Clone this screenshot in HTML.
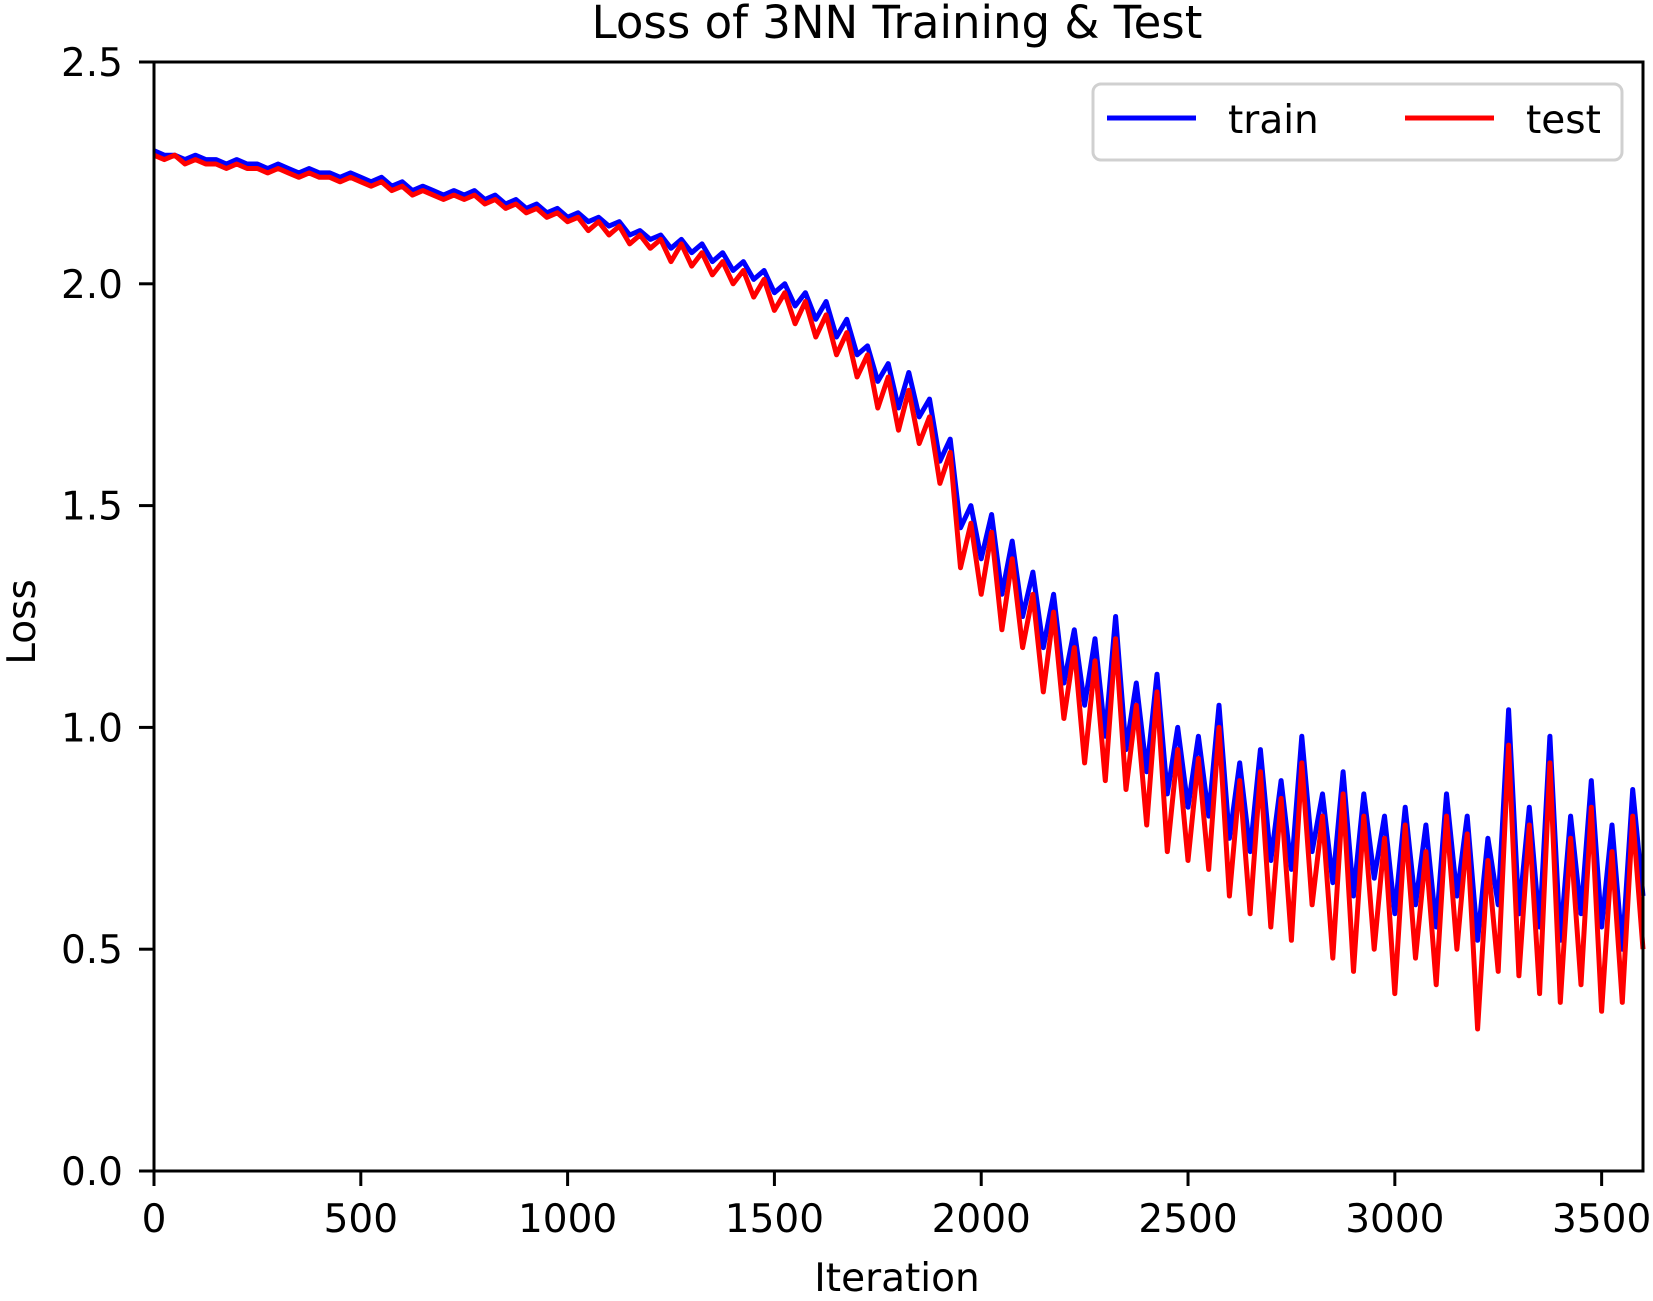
<!DOCTYPE html>
<html><head><meta charset="utf-8"><style>
html,body{margin:0;padding:0;background:#fff}
svg{display:block;font-family:"DejaVu Sans","Liberation Sans",sans-serif}
</style></head><body>
<svg id="chart" width="1653" height="1301" viewBox="0 0 1653 1301">
<text x="897" y="38" font-size="45" text-anchor="middle">Loss of 3NN Training &amp; Test</text>
<g id="series"></g>
<rect x="154" y="62" width="1489" height="1109" fill="none" stroke="#000" stroke-width="3"/>
<g id="ticks"></g>
<text x="897" y="1291" font-size="39" text-anchor="middle">Iteration</text>
<text x="0" y="0" font-size="39" text-anchor="middle" transform="translate(35,622) rotate(-90)">Loss</text>
<g>
<rect x="1093" y="84" width="529" height="76" rx="8" fill="#fff" fill-opacity="0.8" stroke="#d0d0d0" stroke-width="3"/>
<line x1="1107" y1="118" x2="1196" y2="118" stroke="#0000ff" stroke-width="5"/>
<text x="1228" y="133" font-size="39">train</text>
<line x1="1405" y1="118" x2="1494" y2="118" stroke="#ff0000" stroke-width="5"/>
<text x="1526" y="133" font-size="39">test</text>
</g>
</svg>
<script>
const step = 25;
const xTicks = [0,500,1000,1500,2000,2500,3000,3500];
const yTicks = [0,0.5,1.0,1.5,2.0,2.5];
const trainLoss = [2.30,2.29,2.29,2.28,2.29,2.28,2.28,2.27,2.28,2.27,2.27,2.26,2.27,2.26,2.25,2.26,2.25,2.25,2.24,2.25,2.24,
2.23,2.24,2.22,2.23,2.21,2.22,2.21,2.20,2.21,2.20,2.21,2.19,2.20,2.18,2.19,2.17,2.18,2.16,2.17,2.15,
2.16,2.14,2.15,2.13,2.14,2.11,2.12,2.10,2.11,2.08,2.10,2.07,2.09,2.05,2.07,2.03,2.05,2.01,2.03,1.98,
2.00,1.95,1.98,1.92,1.96,1.88,1.92,1.84,1.86,1.78,1.82,1.72,1.80,1.70,1.74,1.60,1.65,1.45,1.50,1.38,
1.48,1.30,1.42,1.25,1.35,1.18,1.30,1.10,1.22,1.05,1.20,0.98,1.25,0.95,1.10,0.90,1.12,0.85,1.00,0.82,
0.98,0.80,1.05,0.75,0.92,0.72,0.95,0.70,0.88,0.68,0.98,0.72,0.85,0.65,0.90,0.62,0.85,0.66,0.80,0.58,
0.82,0.60,0.78,0.55,0.85,0.62,0.80,0.52,0.75,0.60,1.04,0.58,0.82,0.55,0.98,0.52,0.80,0.58,0.88,0.55,0.78,0.50,0.86,0.62];
const testLoss = [2.29,2.28,2.29,2.27,2.28,2.27,2.27,2.26,2.27,2.26,2.26,2.25,2.26,2.25,2.24,2.25,2.24,2.24,2.23,2.24,2.23,
2.22,2.23,2.21,2.22,2.20,2.21,2.20,2.19,2.20,2.19,2.20,2.18,2.19,2.17,2.18,2.16,2.17,2.15,2.16,2.14,
2.15,2.12,2.14,2.11,2.13,2.09,2.11,2.08,2.10,2.05,2.09,2.04,2.07,2.02,2.05,2.00,2.03,1.97,2.01,1.94,
1.98,1.91,1.96,1.88,1.93,1.84,1.89,1.79,1.84,1.72,1.79,1.67,1.76,1.64,1.70,1.55,1.62,1.36,1.46,1.30,
1.44,1.22,1.38,1.18,1.30,1.08,1.26,1.02,1.18,0.92,1.15,0.88,1.20,0.86,1.05,0.78,1.08,0.72,0.95,0.70,
0.93,0.68,1.00,0.62,0.88,0.58,0.90,0.55,0.84,0.52,0.92,0.60,0.80,0.48,0.85,0.45,0.80,0.50,0.75,0.40,
0.78,0.48,0.72,0.42,0.80,0.50,0.76,0.32,0.70,0.45,0.96,0.44,0.78,0.40,0.92,0.38,0.75,0.42,0.82,0.36,0.72,0.38,0.80,0.50];

const X0=154,X1=1643,Y0=1171,Y1=62,XMAX=3600,YMAX=2.5;
const xs = v => X0 + v/XMAX*(X1-X0);
const ys = v => Y0 - v/YMAX*(Y0-Y1);
const NS="http://www.w3.org/2000/svg";
const series=document.getElementById('series');
function drawLine(arr,color,name){
  const p=document.createElementNS(NS,'polyline');
  p.setAttribute('points',arr.map((v,i)=>xs(i*step).toFixed(1)+','+ys(v).toFixed(1)).join(' '));
  p.setAttribute('fill','none');p.setAttribute('stroke',color);
  p.setAttribute('stroke-width','5');p.setAttribute('stroke-linejoin','round');
  
  
  series.appendChild(p);
}
drawLine(trainLoss,'#0000ff','train-line');
drawLine(testLoss,'#ff0000','test-line');
const ticks=document.getElementById('ticks');
xTicks.forEach(t=>{
  const l=document.createElementNS(NS,'line');
  l.setAttribute('x1',xs(t));l.setAttribute('x2',xs(t));l.setAttribute('y1',Y0);l.setAttribute('y2',Y0+15);
  l.setAttribute('stroke','#000');l.setAttribute('stroke-width','3');
  
  
  ticks.appendChild(l);
  const tx=document.createElementNS(NS,'text');
  tx.setAttribute('x',xs(t));tx.setAttribute('y',1232);tx.setAttribute('font-size','39');tx.setAttribute('text-anchor','middle');
  tx.textContent=t;
  
  
  ticks.appendChild(tx);
});
yTicks.forEach(t=>{
  const l=document.createElementNS(NS,'line');
  l.setAttribute('x1',X0-15);l.setAttribute('x2',X0);l.setAttribute('y1',ys(t));l.setAttribute('y2',ys(t));
  l.setAttribute('stroke','#000');l.setAttribute('stroke-width','3');
  
  
  ticks.appendChild(l);
  const tx=document.createElementNS(NS,'text');
  tx.setAttribute('x',123);tx.setAttribute('y',ys(t)+14);tx.setAttribute('font-size','39');tx.setAttribute('text-anchor','end');
  tx.textContent=t.toFixed(1);
  
  
  ticks.appendChild(tx);
});
</script>
</body></html>
